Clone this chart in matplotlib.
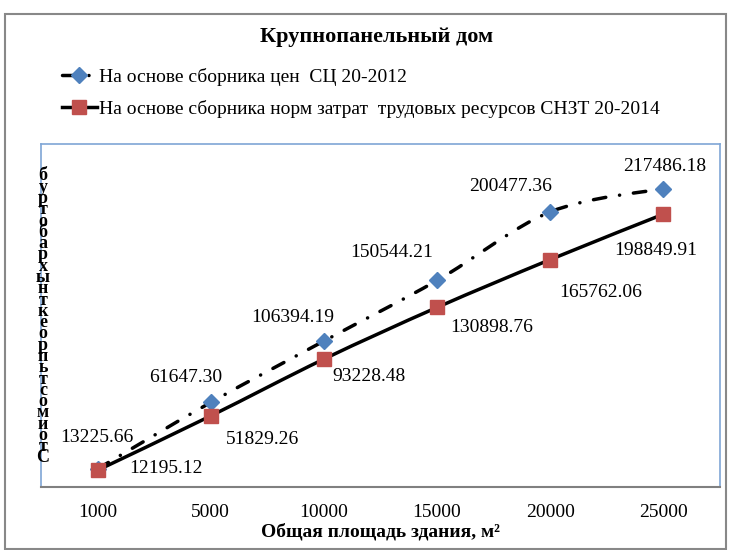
import matplotlib
matplotlib.use("Agg")
import matplotlib.pyplot as plt
from matplotlib.path import Path
from matplotlib.patches import PathPatch, Rectangle
from matplotlib.lines import Line2D

plt.rcParams['font.family'] = ['Liberation Serif', 'DejaVu Serif']
plt.rcParams['lines.scale_dashes'] = False

# данные
areas = ['1000', '5000', '10000', '15000', '20000', '25000']
price_sc = [13225.66, 61647.30, 106394.19, 150544.21, 200477.36, 217486.18]
price_snzt = [12195.12, 51829.26, 93228.48, 130898.76, 165762.06, 198849.91]
label_sc = 'На основе сборника цен  СЦ 20-2012'
label_snzt = 'На основе сборника норм затрат  трудовых ресурсов СНЗТ 20-2014'
title = 'Крупнопанельный дом'
xlabel = 'Общая площадь здания, м²'
ylabel = 'Стоимость проектных работ руб'

blue = '#4F81BD'
red = '#C0504D'
dashdot = (0, (9, 10, 0.1, 10))

# смещения подписей (пиксели)
off_sc = [(-1, 31), (-25, 25), (-31, 24), (-45, 28), (-40, 25), (1, 22)]
off_snzt = [(68, 2), (52, -24), (45, -17), (55, -20), (50, -33), (-8, -36)]


def smooth_path(xs, ys):
    # сглаженная линия как в Excel (кривые Безье)
    pts = list(zip(xs, ys))
    n = len(pts)
    verts = [pts[0]]
    codes = [Path.MOVETO]
    for i in range(n - 1):
        p0 = pts[i - 1] if i > 0 else pts[i]
        p1 = pts[i]
        p2 = pts[i + 1]
        p3 = pts[i + 2] if i + 2 < n else pts[i + 1]
        c1 = (p1[0] + (p2[0] - p0[0]) / 6, p1[1] + (p2[1] - p0[1]) / 6)
        c2 = (p2[0] - (p3[0] - p1[0]) / 6, p2[1] - (p3[1] - p1[1]) / 6)
        verts += [c1, c2, p2]
        codes += [Path.CURVE4] * 3
    return Path(verts, codes)


fig = plt.figure(figsize=(7.3, 5.5), dpi=100)
ax = fig.add_axes([41 / 730, 1 - 487 / 550, 679 / 730, 343 / 550])

x = list(range(len(areas)))
ax.add_patch(PathPatch(smooth_path(x, price_sc), fill=False, color='black', lw=2.5,
                       linestyle=dashdot, capstyle='round', zorder=2))
ax.add_patch(PathPatch(smooth_path(x, price_snzt), fill=False, color='black', lw=2.5,
                       capstyle='round', zorder=2))
ax.plot(x, price_sc, ls='none', marker='D', ms=8, color=blue, zorder=3)
ax.plot(x, price_snzt, ls='none', marker='s', ms=10.5, color=red, zorder=3)

for xi, v, o in zip(x, price_sc, off_sc):
    ax.annotate(f'{v:.2f}', (xi, v), xytext=o, textcoords='offset pixels',
                ha='center', va='center', fontsize=14)
for xi, v, o in zip(x, price_snzt, off_snzt):
    ax.annotate(f'{v:.2f}', (xi, v), xytext=o, textcoords='offset pixels',
                ha='center', va='center', fontsize=14)

ax.set_xlim(-0.5, 5.5)
ax.set_ylim(0, 250000)
ax.set_xticks(x)
ax.set_xticklabels(areas, fontsize=14)
ax.tick_params(axis='x', length=0, pad=12)
ax.set_yticks([])
for s in ['left', 'top', 'right']:
    ax.spines[s].set_color('#7FA6D6')
    ax.spines[s].set_linewidth(1.2)
ax.spines['bottom'].set_color('#808080')
ax.spines['bottom'].set_linewidth(1.5)
ax.set_xlabel(xlabel, fontsize=14, fontweight='bold', labelpad=2)

fig.text(377 / 730, 1 - 37 / 550, title, ha='center', va='center',
         fontsize=16, fontweight='bold')

# вертикальная подпись из букв столбиком
letters = [c for c in ylabel if c != ' ']
fig.text(43 / 730, 1 - 317 / 550, '\n'.join(reversed(letters)), ha='center', va='center',
         fontsize=13, fontweight='bold', linespacing=0.56)

handles = [Line2D([], [], color='black', lw=2.5, linestyle=dashdot, dash_capstyle='round',
                  marker='D', ms=8, mfc=blue, mec=blue),
           Line2D([], [], color='black', lw=2.5, marker='s', ms=10.5, mfc=red, mec=red)]
fig.legend(handles, [label_sc, label_snzt], loc='upper left',
           bbox_to_anchor=(52 / 730, 1 - 58 / 550), frameon=False, fontsize=14,
           handlelength=1.8, handletextpad=0.1, labelspacing=0.72, borderpad=0)

fig.add_artist(Rectangle((5 / 730, 1 / 550), 721 / 730, 535 / 550, transform=fig.transFigure,
                         fill=False, edgecolor='#888888', lw=1.5))

fig.savefig('out.png', dpi=100)
